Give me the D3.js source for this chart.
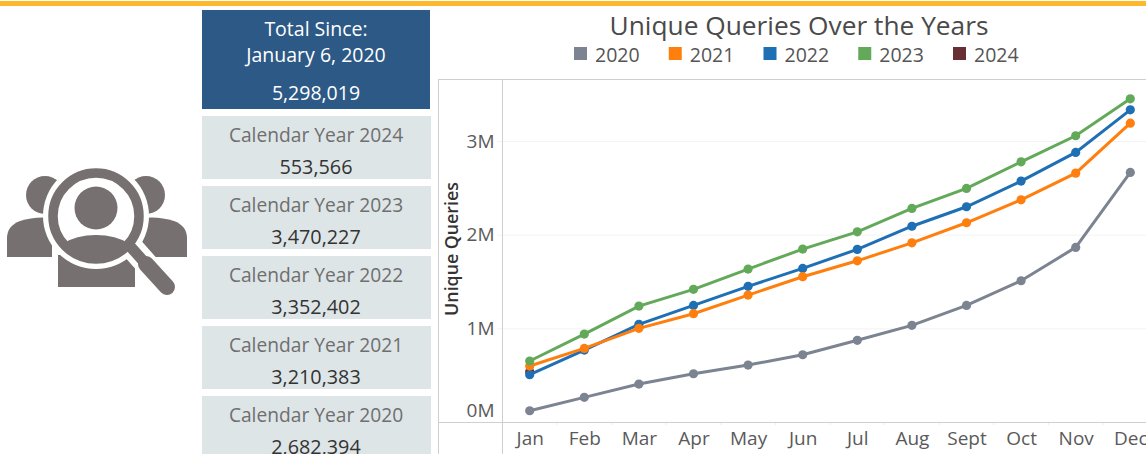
<!DOCTYPE html>
<html>
<head>
<meta charset="utf-8">
<script src="https://d3js.org/d3.v7.min.js"></script>
<style>
body { margin: 0; background: #fff; overflow: hidden; }
svg { display: block; font-family: "Open Sans", sans-serif; }
.axis path { display: none; }
.axis text { fill: #5a5a5a; font-size: 19px; font-family: "Open Sans", sans-serif; }
</style>
</head>
<body>
<div id="chart"></div>
<script>
// values, millions of queries per month
var months = ["Jan","Feb","Mar","Apr","May","Jun","Jul","Aug","Sept","Oct","Nov","Dec"];
var years = ["2020","2021","2022","2023","2024"];
var colors = ["#7c8391","#ff7f0e","#1f6fb5","#63a95a","#672e33"];
var values2020 = [0.12,0.263,0.405,0.515,0.608,0.718,0.872,1.032,1.245,1.508,1.864,2.665];
var values2021 = [0.598,0.786,1.0,1.156,1.355,1.551,1.721,1.913,2.127,2.372,2.657,3.19];
var values2022 = [0.505,0.768,1.043,1.245,1.448,1.64,1.843,2.09,2.298,2.572,2.878,3.333];
var values2023 = [0.651,0.939,1.238,1.416,1.633,1.846,2.03,2.28,2.494,2.778,3.056,3.45];
var values2024 = [0.537];
var yTicks = [0,1,2,3];
var cardLabels = ["Calendar Year 2024","Calendar Year 2023","Calendar Year 2022","Calendar Year 2021","Calendar Year 2020"];
var cardValues = ["553,566","3,470,227","3,352,402","3,210,383","2,682,394"];

var width = 1146, height = 454;

var svg = d3.select("#chart").append("svg")
    .attr("width", width)
    .attr("height", height);

// top stripe
svg.append("rect").attr("x", 0).attr("y", 1).attr("width", width).attr("height", 5).attr("fill", "#fdb82b");

// total panel
svg.append("rect").attr("x", 202).attr("y", 10).attr("width", 228).attr("height", 99).attr("fill", "#2c5985");
var totalLines = [["Total Since:", 36], ["January 6, 2020", 62], ["5,298,019", 100]];
svg.selectAll(".total").data(totalLines).enter().append("text")
    .attr("class", "total")
    .attr("x", 316)
    .attr("y", function(d) { return d[1]; })
    .attr("text-anchor", "middle")
    .attr("fill", "#fff")
    .style("font-size", "19.5px")
    .text(function(d) { return d[0]; });

// year cards
var cardTops = [116, 186, 256, 326, 396];
var cards = svg.selectAll(".card").data(cardLabels).enter().append("g")
    .attr("class", "card")
    .attr("transform", function(d, i) { return "translate(202," + cardTops[i] + ")"; });
cards.append("rect").attr("width", 229).attr("height", 63).attr("fill", "#dee5e7");
cards.append("text")
    .attr("x", 114).attr("y", 26)
    .attr("text-anchor", "middle")
    .attr("fill", "#6f6f6f")
    .style("font-size", "19.2px")
    .text(function(d) { return d; });
cards.append("text")
    .attr("x", 114).attr("y", 58)
    .attr("text-anchor", "middle")
    .attr("fill", "#333")
    .style("font-size", "19.8px")
    .text(function(d, i) { return cardValues[i]; });

// icon
var iconColor = "#767070";
var icon = svg.append("g").attr("fill", iconColor);
icon.append("circle").attr("cx", 45).attr("cy", 195).attr("r", 19);
icon.append("circle").attr("cx", 146).attr("cy", 195).attr("r", 19);
icon.append("path").attr("d", "M7,257 V238 Q7,226 20,221 Q35,216 52,218 V257 Z");
icon.append("path").attr("d", "M187,257 V238 Q187,226 174,221 Q159,216 142,218 V257 Z");
icon.append("rect").attr("x", 58).attr("y", 255).attr("width", 77).attr("height", 32);
icon.append("circle").attr("cx", 96).attr("cy", 216).attr("r", 53).attr("fill", "#fff");
icon.append("line").attr("x1", 134).attr("y1", 250).attr("x2", 167).attr("y2", 287)
    .attr("stroke", "#fff").attr("stroke-width", 23).attr("stroke-linecap", "round");
svg.append("clipPath").attr("id", "lens").append("circle").attr("cx", 96).attr("cy", 216).attr("r", 40);
icon.append("circle").attr("cx", 96).attr("cy", 208).attr("r", 21.5);
icon.append("ellipse").attr("cx", 96).attr("cy", 266).attr("rx", 48).attr("ry", 31)
    .attr("clip-path", "url(#lens)");
icon.append("circle").attr("cx", 96).attr("cy", 216).attr("r", 43)
    .attr("fill", "none").attr("stroke", iconColor).attr("stroke-width", 9.5);
icon.append("line").attr("x1", 128).attr("y1", 244).attr("x2", 146).attr("y2", 264)
    .attr("stroke", iconColor).attr("stroke-width", 11);
icon.append("line").attr("x1", 146).attr("y1", 264).attr("x2", 167).attr("y2", 287)
    .attr("stroke", iconColor).attr("stroke-width", 16).attr("stroke-linecap", "round");

// title and legend
svg.append("text")
    .attr("x", 799).attr("y", 35)
    .attr("text-anchor", "middle")
    .attr("fill", "#4a4a4a")
    .style("font-size", "26.3px")
    .text("Unique Queries Over the Years");

var legendX = d3.scalePoint().domain(years).range([574, 953]);
var legend = svg.selectAll(".legend").data(years).enter().append("g")
    .attr("class", "legend")
    .attr("transform", function(d) { return "translate(" + legendX(d) + ",47)"; });
legend.append("rect").attr("width", 13).attr("height", 13)
    .attr("fill", function(d, i) { return colors[i]; });
legend.append("text").attr("x", 21).attr("y", 14.5)
    .attr("fill", "#555")
    .style("font-size", "19.5px")
    .text(function(d) { return d; });

// scales
var x = d3.scalePoint().domain(months).range([529.7, 1130.3]);
var y = d3.scaleLinear().domain([0, 3]).range([422, 141]);

// frame
var frameColor = "#cfcfcf";
svg.append("line").attr("x1", 438.5).attr("x2", 438.5).attr("y1", 79).attr("y2", height).attr("stroke", frameColor);
svg.append("line").attr("x1", 438).attr("x2", width).attr("y1", 79.5).attr("y2", 79.5).attr("stroke", frameColor);

// axes
svg.append("g")
    .attr("class", "axis y-axis")
    .attr("transform", "translate(502.5,0)")
    .call(d3.axisLeft(y).tickValues(yTicks.slice(1)).tickSize(0).tickPadding(8)
        .tickFormat(function(d) { return d + "M"; }));

svg.append("g").selectAll("line").data(yTicks.slice(1)).enter().append("line")
    .attr("x1", 497).attr("x2", width)
    .attr("y1", function(d) { return y(d) + 0.5; })
    .attr("y2", function(d) { return y(d) + 0.5; })
    .attr("stroke", "#f3f3f3");

// the 0M label sits above the baseline in the original
svg.append("text")
    .attr("x", 494.5).attr("y", 417)
    .attr("text-anchor", "end")
    .attr("fill", "#5a5a5a")
    .style("font-size", "19px")
    .text(yTicks[0] + "M");

svg.append("g")
    .attr("class", "axis x-axis")
    .attr("transform", "translate(0,422)")
    .call(d3.axisBottom(x).tickSize(0).tickPadding(10));

svg.append("g").selectAll("line").data(months.slice(1)).enter().append("line")
    .attr("x1", function(d) { return x(d) - x.step() / 2; })
    .attr("x2", function(d) { return x(d) - x.step() / 2; })
    .attr("y1", 422).attr("y2", 425)
    .attr("stroke", "#ececec");

svg.append("line").attr("x1", 502.5).attr("x2", 502.5).attr("y1", 79).attr("y2", height).attr("stroke", frameColor);
svg.append("line").attr("x1", 438).attr("x2", width).attr("y1", 422.5).attr("y2", 422.5).attr("stroke", frameColor);

svg.append("text")
    .attr("transform", "translate(458,249) rotate(-90)")
    .attr("text-anchor", "middle")
    .attr("fill", "#333")
    .style("font-size", "17.8px")
    .style("font-weight", 600)
    .text("Unique Queries");

// lines, 2024 goes under the others
var series = [
  {year: "2024", color: colors[4], values: values2024},
  {year: "2020", color: colors[0], values: values2020},
  {year: "2022", color: colors[2], values: values2022},
  {year: "2021", color: colors[1], values: values2021},
  {year: "2023", color: colors[3], values: values2023}
];

var line = d3.line()
    .x(function(d, i) { return x(months[i]); })
    .y(function(d) { return y(d); });

var groups = svg.selectAll(".series").data(series).enter().append("g").attr("class", "series");
groups.append("path")
    .attr("d", function(d) { return line(d.values); })
    .attr("fill", "none")
    .attr("stroke", function(d) { return d.color; })
    .attr("stroke-width", 3);
groups.selectAll("circle")
    .data(function(d) { return d.values.map(function(v) { return {v: v, color: d.color}; }); })
    .enter().append("circle")
    .attr("cx", function(d, i) { return x(months[i]); })
    .attr("cy", function(d) { return y(d.v); })
    .attr("r", 4.6)
    .attr("fill", function(d) { return d.color; });
</script>
</body>
</html>
